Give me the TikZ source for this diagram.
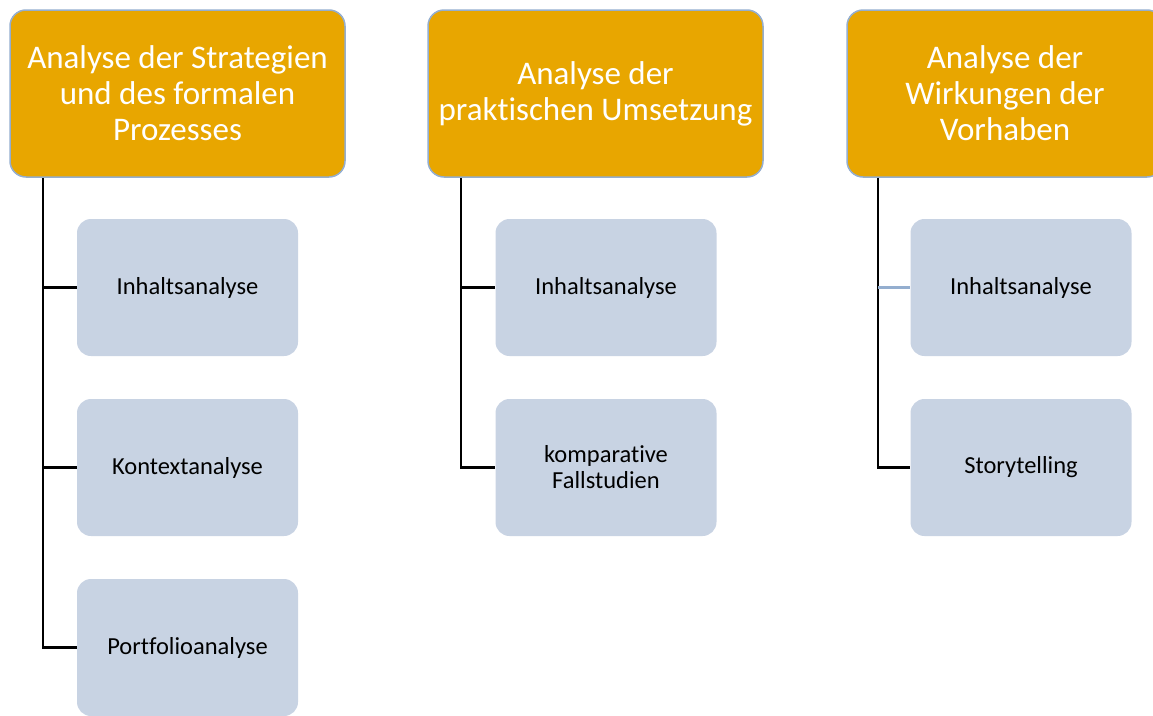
\documentclass[tikz,border=0pt]{standalone}
\usepackage{fontspec}
\setmainfont{Carlito}[Ligatures={TeX,NoCommon}]
\definecolor{headfill}{HTML}{E8A600}
\definecolor{headline}{HTML}{94AECF}
\definecolor{itemfill}{HTML}{C8D3E3}
\tikzset{
  head/.style={draw=headline, line width=1.5pt, fill=headfill, text=white,
    rounded corners=16pt, minimum width=335pt, minimum height=167pt,
    align=center, font=\fontsize{33}{36}\selectfont, inner sep=0pt},
  item/.style={fill=itemfill, rounded corners=14pt, minimum width=221pt,
    minimum height=137pt, align=center, font=\fontsize{24.5}{26}\selectfont,
    inner sep=0pt},
  tree/.style={draw=black, line width=2.2pt},
}
\begin{document}
\begin{tikzpicture}[x=1pt, y=-1pt]
      \clip (0,0) rectangle (1153,715);
      \draw
        (177.5,93.5) node[head] (h1){Analyse der Strategien\\und des formalen\\Prozesses}
        (595.5,93.5) node[head] (h2){Analyse der\\praktischen Umsetzung}
        (1005,93.5) node[head, minimum width=316pt] (h3){Analyse der\\Wirkungen der\\Vorhaben};
      \draw
        (187.5,287.5) node[item] (c11){Inhaltsanalyse}
        (187.5,467.5) node[item] (c12){Kontextanalyse}
        (187.5,647.5) node[item] (c13){Portfolioanalyse}
        (606,287.5) node[item] (c21){Inhaltsanalyse}
        (606,467.5) node[item] (c22){komparative\\Fallstudien}
        (1021,287.5) node[item] (c31){Inhaltsanalyse}
        (1021,467.5) node[item] (c32){Storytelling};
      \begin{scope}[tree]
        \draw ([xshift=34pt]h1.south west) |- (c13.west);
        \draw ([xshift=34pt]h1.south west |- c11.west) -- (c11.west);
        \draw ([xshift=34pt]h1.south west |- c12.west) -- (c12.west);
        \draw ([xshift=34pt]h2.south west) |- (c22.west);
        \draw ([xshift=34pt]h2.south west |- c21.west) -- (c21.west);
        \draw ([xshift=32pt]h3.south west) |- (c32.west);
        \draw[headline] ([xshift=32pt]h3.south west |- c31.west) -- (c31.west);
      \end{scope}
\end{tikzpicture}
\end{document}
